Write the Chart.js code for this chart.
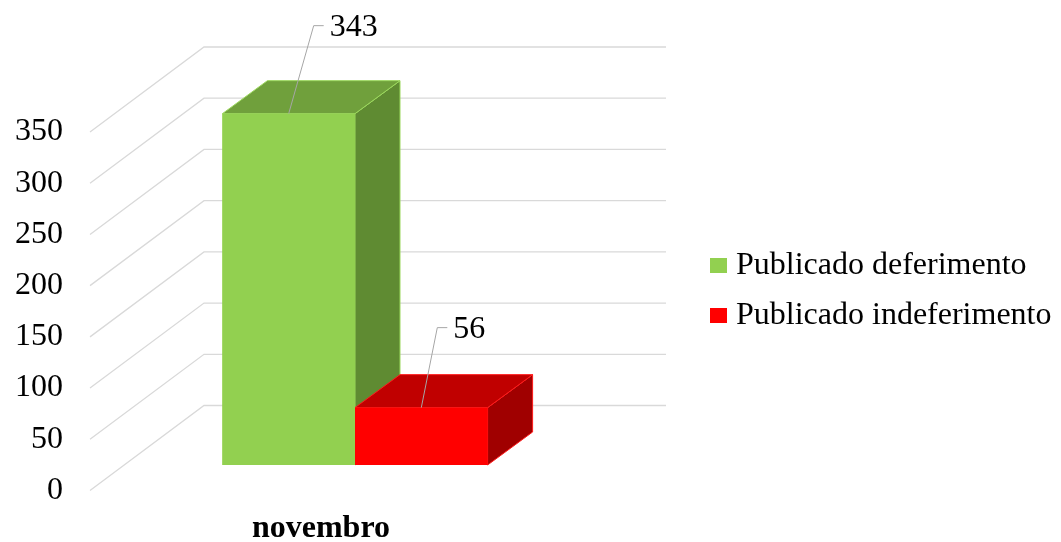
<!DOCTYPE html>
<html>
<head>
<meta charset="utf-8">
<script src="https://cdn.jsdelivr.net/npm/chart.js@4.4.1/dist/chart.umd.min.js"></script>
<style>
  html, body { margin: 0; padding: 0; background: #ffffff; }
  #wrap { width: 1061px; height: 542px; position: relative; }
</style>
</head>
<body>
<div id="wrap"><canvas id="c" width="1061" height="542"></canvas></div>
<script>
// ---- data ----
const categories = ['novembro'];
const seriesNames = ['Publicado deferimento', 'Publicado indeferimento'];
const deferimento = [343];
const indeferimento = [56];
const yTickValues = [0, 50, 100, 150, 200, 250, 300, 350];

// ---- style ----
const FONT = "'Times New Roman', 'Liberation Serif', serif";
const frontColors = ['#92D050', '#FF0000'];
const faceColors = [
  { top: '#70A03C', side: '#5F8B32', edge: '#9BD85C' },
  { top: '#C00000', side: '#A00000', edge: '#FF1A1A' }
];
const G = { gx: 114, gy: 85, bx: 34, by: 25.5, sx: 45, sy: 33 };
const leaderOffsets = [{ dx: 25, dy: -88 }, { dx: 16, dy: -80 }];

const threeD = {
  id: 'threeD',
  beforeDatasetsDraw(chart) {
    const { ctx, chartArea: a, scales: { y } } = chart;
    ctx.save();
    ctx.strokeStyle = '#D9D9D9';
    ctx.lineWidth = 1.3;
    y.ticks.forEach(t => {
      const py = y.getPixelForValue(t.value);
      ctx.beginPath();
      ctx.moveTo(a.left, py);
      ctx.lineTo(a.left + G.gx, py - G.gy);
      ctx.lineTo(a.right + G.gx, py - G.gy);
      ctx.stroke();
    });
    ctx.restore();
    ctx.save();
    ctx.translate(G.bx, -G.by);
  },
  afterDatasetsDraw(chart) {
    const ctx = chart.ctx;
    const tops = [];
    chart.data.datasets.forEach((ds, i) => {
      const meta = chart.getDatasetMeta(i);
      const fc = faceColors[i];
      meta.data.forEach(bar => {
        const { x, y, base, width } = bar.getProps(['x', 'y', 'base', 'width'], true);
        const l = x - width / 2, r = x + width / 2;
        // side face
        ctx.beginPath();
        ctx.moveTo(r, y);
        ctx.lineTo(r + G.sx, y - G.sy);
        ctx.lineTo(r + G.sx, base - G.sy);
        ctx.lineTo(r, base);
        ctx.closePath();
        ctx.fillStyle = fc.side;
        ctx.fill();
        ctx.strokeStyle = fc.edge; ctx.lineWidth = 1; ctx.stroke();
        // top face
        ctx.beginPath();
        ctx.moveTo(l, y);
        ctx.lineTo(l + G.sx, y - G.sy);
        ctx.lineTo(r + G.sx, y - G.sy);
        ctx.lineTo(r, y);
        ctx.closePath();
        ctx.fillStyle = fc.top;
        ctx.fill();
        ctx.strokeStyle = fc.edge; ctx.lineWidth = 1; ctx.stroke();
        // front face (library element)
        bar.draw(ctx);
        tops.push({ x: x + G.bx, y: y - G.by, v: ds.data[bar.$context ? bar.$context.dataIndex : 0], i });
      });
    });
    ctx.restore();
    // data labels with leader lines
    ctx.save();
    tops.forEach(t => {
      const off = leaderOffsets[t.i];
      const ex = t.x + off.dx, ey = t.y + off.dy;
      ctx.strokeStyle = '#A6A6A6';
      ctx.lineWidth = 1;
      ctx.beginPath();
      ctx.moveTo(t.x, t.y);
      ctx.lineTo(ex, ey);
      ctx.lineTo(ex + 10, ey);
      ctx.stroke();
      ctx.fillStyle = '#000';
      ctx.font = '32px ' + FONT;
      ctx.textAlign = 'left';
      ctx.textBaseline = 'middle';
      ctx.fillText(String(t.v), ex + 16, ey + 2);
    });
    ctx.restore();
  },
  afterDraw(chart) {
    const ctx = chart.ctx;
    ctx.save();
    chart.data.datasets.forEach((ds, i) => {
      const cy = 265 + i * 50;
      ctx.fillStyle = ds.backgroundColor;
      ctx.fillRect(710, cy - 7, 17, 15);
      ctx.fillStyle = '#000';
      ctx.font = '32px ' + FONT;
      ctx.textAlign = 'left';
      ctx.textBaseline = 'middle';
      ctx.fillText(ds.label, 736, cy + 1);
    });
    ctx.restore();
  }
};

new Chart(document.getElementById('c'), {
  type: 'bar',
  data: {
    labels: categories,
    datasets: [
      { label: seriesNames[0], data: deferimento, backgroundColor: frontColors[0], borderWidth: 0, clip: false },
      { label: seriesNames[1], data: indeferimento, backgroundColor: frontColors[1], borderWidth: 0, clip: false }
    ]
  },
  options: {
    responsive: false,
    animation: false,
    devicePixelRatio: 1,
    layout: { padding: { top: 132, right: 509, bottom: 0, left: 0 } },
    datasets: { bar: { categoryPercentage: 0.574, barPercentage: 1.0 } },
    plugins: { legend: { display: false }, tooltip: { enabled: false } },
    scales: {
      x: {
        grid: { display: false, drawTicks: false },
        border: { display: false },
        ticks: { color: '#000', font: { family: FONT, size: 32, weight: 'bold' }, padding: 19 },
        afterFit(s) { s.height = 51.5; }
      },
      y: {
        min: 0, max: 350,
        afterBuildTicks(s) { s.ticks = yTickValues.map(v => ({ value: v })); },
        grid: { display: false, drawTicks: false },
        border: { display: false },
        ticks: { color: '#000', font: { family: FONT, size: 32 }, padding: 27 },
        afterFit(s) { s.width = 90; }
      }
    }
  },
  plugins: [threeD]
});
</script>
</body>
</html>
